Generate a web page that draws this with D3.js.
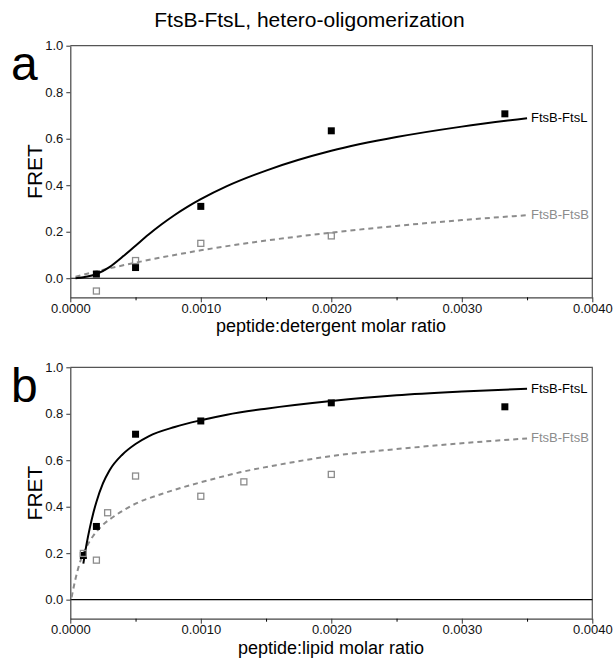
<!DOCTYPE html>
<html>
<head>
<meta charset="utf-8">
<script src="https://cdn.jsdelivr.net/npm/d3@7"></script>
<style>
  body { margin: 0; background: #fff; }
  svg { display: block; font-family: "Liberation Sans", Arial, Helvetica, sans-serif; }
</style>
</head>
<body>
<svg id="chart"></svg>
<script>
// ---- values ----
const titleText = "FtsB-FtsL, hetero-oligomerization";
const xTicks = [0, 0.001, 0.002, 0.003, 0.004];
const xMinorTicks = [0.0005, 0.0015, 0.0025, 0.0035];
const yTicks = [0, 0.2, 0.4, 0.6, 0.8, 1.0];
const seriesNames = ["FtsB-FtsL", "FtsB-FtsB"];

// panel a: detergent
const detFtsLx = [0.0002, 0.0005, 0.001, 0.002, 0.00333];
const detFtsLy = [0.018, 0.046, 0.309, 0.634, 0.707];
const detFtsBx = [0.0002, 0.0005, 0.001, 0.002];
const detFtsBy = [-0.055, 0.076, 0.150, 0.182];
// fitted curves
const detFitLx = [0.00004, 0.0001, 0.0002, 0.0003, 0.0004, 0.0005, 0.0006, 0.0007, 0.0008, 0.0009, 0.001, 0.0012, 0.0015, 0.002, 0.0025, 0.003, 0.0035];
const detFitLy = [0, 0.004, 0.018, 0.048, 0.092, 0.14, 0.188, 0.232, 0.272, 0.308, 0.34, 0.396, 0.463, 0.548, 0.607, 0.652, 0.688];
const detFitBx = [0.00004, 0.0002, 0.0005, 0.001, 0.0015, 0.002, 0.0025, 0.003, 0.0035];
const detFitBy = [0.006, 0.029, 0.067, 0.12, 0.162, 0.196, 0.225, 0.25, 0.271];

// panel b: lipid
const lipFtsLx = [0.0001, 0.0002, 0.0005, 0.001, 0.002, 0.00333];
const lipFtsLy = [0.19, 0.315, 0.712, 0.769, 0.847, 0.830];
const lipFtsBx = [0.0001, 0.0002, 0.000286, 0.0005, 0.001, 0.00133, 0.002];
const lipFtsBy = [0.199, 0.17, 0.374, 0.532, 0.445, 0.507, 0.539];
const lipFitLx = [0.0001, 0.000125, 0.00015, 0.000175, 0.0002, 0.00025, 0.0003, 0.0004, 0.0005, 0.0006, 0.0008, 0.001, 0.0012, 0.0015, 0.002, 0.0025, 0.003, 0.0035];
const lipFitLy = [0.155, 0.24, 0.31, 0.37, 0.42, 0.5, 0.556, 0.625, 0.67, 0.703, 0.743, 0.772, 0.796, 0.822, 0.855, 0.88, 0.896, 0.908];
const lipFitBx = [0.00001, 0.00004, 0.000075, 0.000125, 0.000175, 0.00025, 0.00035, 0.0005, 0.0007, 0.001, 0.0013, 0.0016, 0.002, 0.0025, 0.003, 0.0035];
const lipFitBy = [0.01, 0.09, 0.162, 0.228, 0.274, 0.322, 0.364, 0.413, 0.455, 0.505, 0.548, 0.581, 0.618, 0.648, 0.673, 0.694];

const width = 615;
const height = 659;
const left = 70.3, right = 592.3;

const svg = d3.select("#chart")
    .attr("width", width)
    .attr("height", height);

svg.append("text")
    .attr("x", 309.5)
    .attr("y", 27)
    .attr("text-anchor", "middle")
    .style("font-size", "21px")
    .text(titleText);

const x = d3.scaleLinear().domain([0, 0.004]).range([left, right]);

function drawPanel(cfg) {
    const y = d3.scaleLinear().domain([-0.082, 1.0]).range([cfg.bottom, cfg.top]);
    const g = svg.append("g");

    // frame top and right
    g.append("path")
        .attr("d", `M${left},${cfg.top}H${right}V${cfg.bottom}`)
        .attr("fill", "none")
        .attr("stroke", "#555")
        .attr("stroke-width", 1.2);

    // zero line
    g.append("line")
        .attr("x1", left).attr("x2", right)
        .attr("y1", y(0)).attr("y2", y(0))
        .attr("stroke", "#000")
        .attr("stroke-width", 1.2);

    // x axis, major + minor ticks
    const xAxis = g.append("g")
        .attr("transform", `translate(0,${cfg.bottom})`)
        .call(d3.axisBottom(x).tickValues(xTicks).tickFormat(d3.format(".4f"))
            .tickSize(5).tickSizeOuter(0).tickPadding(1));
    g.append("g")
        .attr("transform", `translate(0,${cfg.bottom})`)
        .call(d3.axisBottom(x).tickValues(xMinorTicks).tickFormat("")
            .tickSize(3).tickSizeOuter(0))
        .select(".domain").remove();

    const yAxis = g.append("g")
        .attr("transform", `translate(${left},0)`)
        .call(d3.axisLeft(y).tickValues(yTicks).tickFormat(d3.format(".1f"))
            .tickSize(4).tickSizeOuter(0).tickPadding(3));

    [xAxis, yAxis].forEach(a => {
        a.selectAll("text").style("font-size", "13px").attr("fill", "#111");
        a.selectAll("line").attr("stroke", "#333");
        a.select(".domain").attr("stroke", "#444").attr("stroke-width", 1.2);
    });

    // fitted curves
    const line = d3.line()
        .x(d => x(d[0]))
        .y(d => y(d[1]))
        .curve(d3.curveMonotoneX);

    const fitB = d3.zip(cfg.fitBx, cfg.fitBy);
    const fitL = d3.zip(cfg.fitLx, cfg.fitLy);

    g.append("path")
        .datum(fitB)
        .attr("d", line)
        .attr("fill", "none")
        .attr("stroke", "#8c8c8c")
        .attr("stroke-width", 2)
        .attr("stroke-dasharray", "5,4");

    g.append("path")
        .datum(fitL)
        .attr("d", line)
        .attr("fill", "none")
        .attr("stroke", "#000")
        .attr("stroke-width", 2);

    // markers
    const s = 7;
    g.append("g")
        .selectAll("rect")
        .data(d3.zip(cfg.Lx, cfg.Ly))
        .join("rect")
        .attr("x", d => x(d[0]) - s / 2)
        .attr("y", d => y(d[1]) - s / 2)
        .attr("width", s)
        .attr("height", s)
        .attr("fill", "#000");

    g.append("g")
        .selectAll("rect")
        .data(d3.zip(cfg.Bx, cfg.By))
        .join("rect")
        .attr("x", d => x(d[0]) - (s - 1) / 2)
        .attr("y", d => y(d[1]) - (s - 1) / 2)
        .attr("width", s - 1)
        .attr("height", s - 1)
        .attr("fill", "none")
        .attr("stroke", "#8c8c8c")
        .attr("stroke-width", 1.3);

    // curve labels
    const endL = fitL[fitL.length - 1];
    const endB = fitB[fitB.length - 1];
    g.append("text")
        .attr("x", x(endL[0]) + 4)
        .attr("y", y(endL[1]))
        .attr("dy", "0.3em")
        .style("font-size", "13px")
        .text(seriesNames[0]);
    g.append("text")
        .attr("x", x(endB[0]) + 4)
        .attr("y", y(endB[1]))
        .attr("dy", "0.3em")
        .attr("fill", "#8c8c8c")
        .style("font-size", "13px")
        .text(seriesNames[1]);

    // axis titles
    g.append("text")
        .attr("transform", `translate(42,${(cfg.top + cfg.bottom) / 2}) rotate(-90)`)
        .attr("text-anchor", "middle")
        .style("font-size", "21px")
        .text("FRET");

    g.append("text")
        .attr("x", 331)
        .attr("y", cfg.xTitleY)
        .attr("text-anchor", "middle")
        .style("font-size", "18px")
        .text(cfg.xTitle);

    // panel letter
    g.append("text")
        .attr("x", 11)
        .attr("y", cfg.letterY)
        .style("font-size", "48px")
        .text(cfg.letter);
}

drawPanel({
    letter: "a", letterY: 80,
    top: 45.7, bottom: 297.3,
    xTitle: "peptide:detergent molar ratio", xTitleY: 332,
    Lx: detFtsLx, Ly: detFtsLy, Bx: detFtsBx, By: detFtsBy,
    fitLx: detFitLx, fitLy: detFitLy, fitBx: detFitBx, fitBy: detFitBy
});

drawPanel({
    letter: "b", letterY: 402,
    top: 367.3, bottom: 618.7,
    xTitle: "peptide:lipid molar ratio", xTitleY: 654,
    Lx: lipFtsLx, Ly: lipFtsLy, Bx: lipFtsBx, By: lipFtsBy,
    fitLx: lipFitLx, fitLy: lipFitLy, fitBx: lipFitBx, fitBy: lipFitBy
});
</script>
</body>
</html>
